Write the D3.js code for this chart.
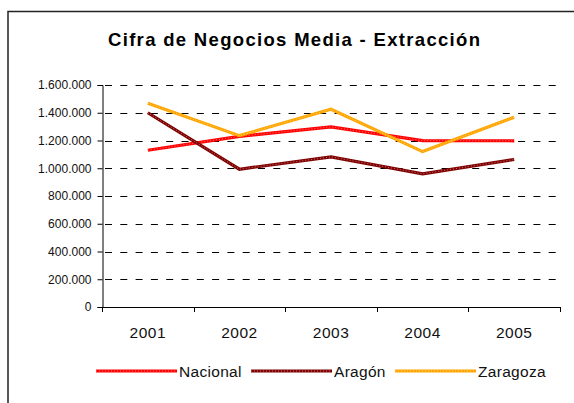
<!DOCTYPE html>
<html><head><meta charset="utf-8">
<script src="https://cdn.jsdelivr.net/npm/d3@7"></script>
<style>body{margin:0;background:#fff}svg{display:block;font-family:"Liberation Sans",Arial,sans-serif}</style>
</head><body><svg id="c" width="574" height="403"></svg>
<script>
const years = ["2001","2002","2003","2004","2005"];
const nacional = [1130000, 1230000, 1298000, 1199000, 1198000];
const aragon = [1400000, 993000, 1082000, 960000, 1063000];
const zaragoza = [1469000, 1235000, 1425000, 1120000, 1368000];
const seriesNames = ["Nacional","Aragón","Zaragoza"];
const seriesColors = ["#FF0000","#800000","#FFA500"];
const yTicks = [0,200000,400000,600000,800000,1000000,1200000,1400000,1600000];
const title = "Cifra de Negocios Media - Extracción";

const series = [nacional, aragon, zaragoza].map((v,i)=>({name:seriesNames[i],color:seriesColors[i],values:v}));
const svg = d3.select("#c");
const L=102,R=560,T=85,B=307;
const x = d3.scaleBand().domain(years).range([L,R]);
const y = d3.scaleLinear().domain([0,1600000]).range([B,T]);
const fmt = d => d3.format(",")(d).replace(/,/g,".");

// border
svg.append("path").attr("d","M8,410 L8,11.5 L580,11.5").attr("fill","none").attr("stroke","#222").attr("stroke-width",1.5);

svg.append("text").attr("x",294).attr("y",46).attr("text-anchor","middle")
  .attr("font-size",18.5).attr("font-weight","bold").attr("fill","#000")
  .attr("textLength",372).attr("lengthAdjust","spacing").text(title);

// grid
svg.append("g").selectAll("line").data(yTicks.filter(d=>d>0)).join("line")
  .attr("x1",L).attr("x2",R).attr("y1",d=>Math.round(y(d))+0.5).attr("y2",d=>Math.round(y(d))+0.5)
  .attr("stroke","#000").attr("stroke-width",1).attr("stroke-dasharray","7,8.3").attr("stroke-dashoffset",-3);

// y axis
const ya = svg.append("g").attr("transform",`translate(${L+0.5},0)`)
  .call(d3.axisLeft(y).tickValues(yTicks).tickFormat(fmt).tickSizeOuter(0).tickSize(5).tickPadding(6));
ya.select(".domain").attr("stroke","#000");
ya.selectAll("text").attr("font-size",12).attr("fill","#111").attr("font-family","Liberation Sans, Arial");

// x axis
const xa = svg.append("g").attr("transform",`translate(0,${B+0.5})`)
  .call(d3.axisBottom(x).tickSize(0).tickPadding(19));
xa.select(".domain").attr("stroke","#000").attr("d",`M${L},0H${R}`);
xa.selectAll("text").attr("font-size",15.5).attr("fill","#111").attr("font-family","Liberation Sans, Arial").attr("letter-spacing","0.5");
svg.append("g").selectAll("line").data(years.concat(["end"])).join("line")
  .attr("x1",(d,i)=>Math.round(L+i*x.bandwidth())+0.5).attr("x2",(d,i)=>Math.round(L+i*x.bandwidth())+0.5)
  .attr("y1",B).attr("y2",B+5).attr("stroke","#000");

// lines
const line = d3.line().x((d,i)=>x(years[i])+x.bandwidth()/2).y(d=>y(d));
const lg = svg.append("g");
series.forEach(s=>{
  lg.append("path").attr("d",line(s.values)).attr("fill","none").attr("stroke",s.color).attr("stroke-width",3.2);
  lg.append("path").attr("d",line(s.values)).attr("fill","none").attr("stroke","#fff").attr("stroke-opacity",0.45).attr("stroke-width",1).attr("stroke-dasharray","1,2");
});

// legend
const legX = [96,251,395];
const leg = svg.append("g");
series.forEach((s,i)=>{
  leg.append("line").attr("x1",legX[i]).attr("x2",legX[i]+81).attr("y1",371).attr("y2",371).attr("stroke",s.color).attr("stroke-width",3.2);
  leg.append("line").attr("x1",legX[i]).attr("x2",legX[i]+81).attr("y1",371).attr("y2",371).attr("stroke","#fff").attr("stroke-opacity",0.45).attr("stroke-width",1).attr("stroke-dasharray","1,2");
  leg.append("text").attr("x",legX[i]+83).attr("y",377).attr("font-size",15.5).attr("fill","#111").attr("letter-spacing","0.3").text(s.name);
});
</script></body></html>
